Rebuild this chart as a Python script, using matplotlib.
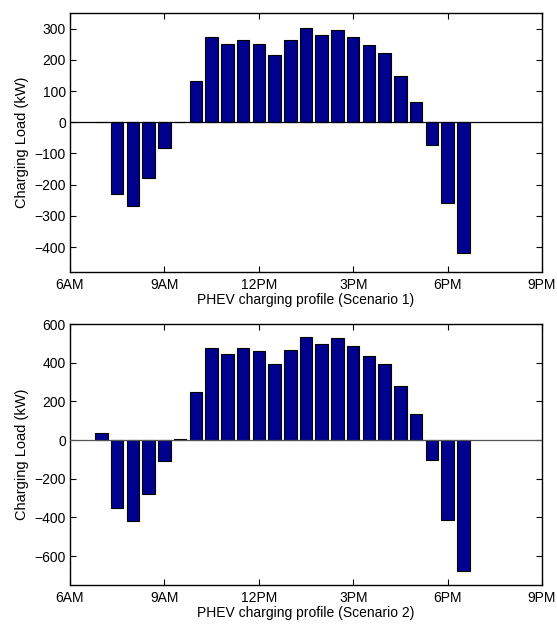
import matplotlib.pyplot as plt

# half-hour time slots, in hours of the day (7:00 ... 18:30)
hours = [7.0, 7.5, 8.0, 8.5, 9.0, 9.5, 10.0, 10.5, 11.0, 11.5, 12.0, 12.5,
         13.0, 13.5, 14.0, 14.5, 15.0, 15.5, 16.0, 16.5, 17.0, 17.5, 18.0, 18.5]

load_s1 = [0, -229, -269, -178, -84, 0, 132, 273, 252, 263, 252, 215,
           263, 301, 281, 295, 273, 248, 223, 147, 65, -74, -258, -419]

load_s2 = [36, -352, -421, -281, -110, 3, 247, 474, 447, 474, 459, 393,
           464, 534, 498, 526, 486, 433, 393, 278, 134, -102, -412, -679]

tick_hours = [6, 9, 12, 15, 18, 21]
tick_labels = ['6AM', '9AM', '12PM', '3PM', '6PM', '9PM']

plt.rcParams['font.family'] = ['Liberation Sans', 'DejaVu Sans']
plt.rcParams['font.size'] = 10

fig = plt.figure(figsize=(5.57, 6.25), dpi=100)
ax1 = fig.add_axes([70/557, 1-272/625, 472/557, 259/625])
ax2 = fig.add_axes([70/557, 1-585/625, 472/557, 261/625])

panels = [
    (ax1, load_s1, (-480, 350), range(-400, 301, 100), 'PHEV charging profile (Scenario 1)', 'black'),
    (ax2, load_s2, (-750, 600), range(-600, 601, 200), 'PHEV charging profile (Scenario 2)', '#555555'),
]

for ax, vals, ylim, yticks, xlabel, base_color in panels:
    ax.bar(hours, vals, width=0.4, color='#00008F', edgecolor='black', linewidth=0.8, zorder=2)
    ax.axhline(0, color=base_color, linewidth=0.9, zorder=3)
    ax.set_xlim(6, 21)
    ax.set_ylim(*ylim)
    ax.set_xticks(tick_hours)
    ax.set_xticklabels(tick_labels)
    ax.set_yticks(list(yticks))
    ax.tick_params(direction='in', top=True, right=True, length=4, width=0.8, pad=3)
    ax.tick_params(axis='x', pad=4)
    ax.set_xlabel(xlabel, labelpad=1)
    ax.set_ylabel('Charging Load (kW)', labelpad=4, fontsize=10.5)
    for s in ax.spines.values():
        s.set_linewidth(1.0)

fig.savefig('out.png', dpi=100)
